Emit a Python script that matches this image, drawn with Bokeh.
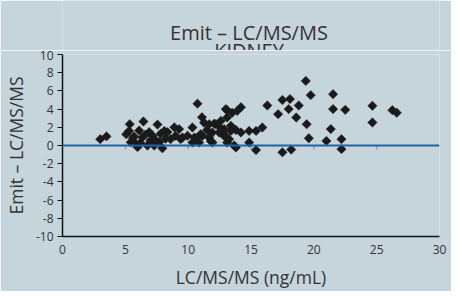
from bokeh.plotting import figure
from bokeh.models import Range1d, FixedTicker, Span
from bokeh.layouts import column
from bokeh.core.properties import value
from bokeh.embed import file_html
from bokeh.resources import INLINE

title_line1 = "Emit – LC/MS/MS"
title_line2 = "KIDNEY"
x_label = "LC/MS/MS (ng/mL)"
y_label = "Emit – LC/MS/MS"

x_ticks = [0, 5, 10, 15, 20, 25, 30]
y_ticks = [-10, -8, -6, -4, -2, 0, 2, 4, 6, 8, 10]
y_tick_labels = ["-10", "-8", "-6", "-4", "-2", "0", "2", "4", "6", "8", "10"]

x_vals = [3.0, 3.5,
          5.07, 5.35, 5.43, 5.83, 5.97, 6.1, 6.36, 6.44, 6.76, 6.9, 7.0, 7.16, 7.3,
          7.56, 7.7, 7.8, 7.95, 8.1, 8.2, 8.35, 8.6, 5.6, 6.2, 6.6, 7.4, 5.3, 5.7,
          8.9, 9.0, 9.28, 9.4, 9.55, 9.95, 10.34, 10.34, 10.5, 10.74, 10.74, 11.0,
          10.87, 11.1, 11.27, 11.14, 11.5, 11.67, 11.67, 11.8, 11.93, 11.93, 12.07,
          12.2, 12.47, 12.47, 12.6, 12.73, 12.86, 12.86, 13.0, 13.0, 13.07, 13.1,
          13.1, 13.26, 13.4, 13.4, 13.5, 13.66, 13.8, 13.8, 13.9, 14.2, 14.2, 14.85,
          14.85, 15.4, 15.4, 15.9, 16.3, 17.16, 17.5, 17.5, 18.0, 18.1, 18.2, 18.6,
          18.8, 19.36, 19.43, 19.6, 19.75, 21.0, 21.35, 21.53, 21.53, 22.2, 22.2,
          22.5, 24.66, 24.66, 26.25, 26.6]
y_vals = [0.7, 1.0,
          1.24, 2.34, 0.36, 0.18, -0.18, 1.65, 0.9, 2.64, 0.0, 1.47, 0.55, 1.07, 0.0,
          2.3, 0.37, 1.28, -0.3, 1.6, 0.74, 1.47, 0.7, 0.8, 0.3, 1.2, 0.6, 1.6, 1.0,
          2.0, 1.07, 1.8, 0.7, 0.88, 1.07, 1.98, 0.33, 0.88, 4.6, 0.88, 1.24,
          0.33, 3.1, 2.5, 1.07, 1.7, 2.34, 0.88, 0.5, 1.43, 0.33, 2.4,
          2.34, 2.05, 1.43, 2.7, 1.24, 1.8, 1.24, 0.88, 4.0, 3.9, 3.08,
          0.33, 0.7, 2.16, 1.6, 3.6, 0.0, -0.22, 1.7, 3.8, 4.2, 1.43, 1.6,
          0.33, 1.6, -0.5, 1.98, 4.4, 3.44, 5.0, -0.75, 4.0, 5.1, -0.45, 3.08,
          4.4, 7.1, 2.34, 0.8, 5.53, 0.5, 1.8, 5.64, 4.0, 0.7, -0.4,
          3.92, 4.36, 2.53, 3.88, 3.6]

BG = "#c6d4dc"
TXT = "#333333"
FONT = "Open Sans"

# ---- title strip (its own small canvas, 1 unit = 1 px vertically) ----
TITLE_H = 50
tf = figure(frame_width=377, frame_height=TITLE_H, x_range=Range1d(0, 30), y_range=Range1d(0, TITLE_H),
            x_axis_type=None, y_axis_type=None, output_backend="svg", toolbar_location=None,
            title=None, min_border=0, min_border_left=62, min_border_right=12)
tf.background_fill_color = BG
tf.border_fill_color = BG
tf.outline_line_color = None
x_mid = (x_ticks[0] + x_ticks[-1]) / 2
tf.text(x=[x_mid, x_mid], y=[18, 0.5], text=[title_line1, title_line2],
        text_align="center", text_baseline="alphabetic", x_offset=-2,
        text_font=value(FONT), text_font_size=value("20px"), text_color=TXT)

# ---- main chart ----
p = figure(frame_width=377, frame_height=182, x_range=Range1d(0, 30), y_range=Range1d(-10, 10),
           output_backend="svg", toolbar_location=None, title=None,
           min_border_left=62, min_border_right=12, min_border_top=4, min_border_bottom=53)
p.background_fill_color = BG
p.border_fill_color = BG
p.outline_line_color = None
p.grid.visible = False

xa = p.xaxis[0]
xa.ticker = FixedTicker(ticks=x_ticks)
xa.axis_label = x_label
xa.axis_line_color = "#111111"
xa.axis_line_width = 1.5
xa.major_tick_line_color = None
xa.major_tick_in = 0
xa.major_tick_out = 0
xa.minor_tick_line_color = None
xa.major_label_standoff = 8
xa.axis_label_standoff = 8
xa.major_label_text_font = FONT
xa.major_label_text_font_size = "12px"
xa.major_label_text_color = TXT
xa.axis_label_text_font = FONT
xa.axis_label_text_font_size = "17.5px"
xa.axis_label_text_font_style = "normal"
xa.axis_label_text_color = TXT

ya = p.yaxis[0]
ya.ticker = FixedTicker(ticks=y_ticks)
ya.major_label_overrides = {t: l for t, l in zip(y_ticks, y_tick_labels)}
ya.axis_label = y_label
ya.axis_line_color = "#111111"
ya.axis_line_width = 1.5
ya.major_tick_line_color = "#111111"
ya.major_tick_in = 0
ya.major_tick_out = 5
ya.minor_tick_line_color = None
ya.major_label_standoff = 4
ya.axis_label_standoff = 5
ya.major_label_text_font = FONT
ya.major_label_text_font_size = "12px"
ya.major_label_text_color = TXT
ya.axis_label_text_font = FONT
ya.axis_label_text_font_size = "17.5px"
ya.axis_label_text_font_style = "normal"
ya.axis_label_text_color = TXT

zero = Span(location=0, dimension="width", line_color="#1f63a8", line_width=2)
p.add_layout(zero)

inner_ticks = x_ticks[1:-1]
p.segment(x0=inner_ticks, y0=[0] * len(inner_ticks), x1=inner_ticks, y1=[-0.45] * len(inner_ticks),
          line_color="#8ea3b3", line_width=1.5)

p.scatter(x_vals, y_vals, marker="square", angle=0.785398, size=6.6,
          fill_color="#1a1a1a", line_color="#1a1a1a", line_width=0.5)

layout = column(tf, p, spacing=0)
open("out.html", "w").write(file_html(layout, INLINE))
